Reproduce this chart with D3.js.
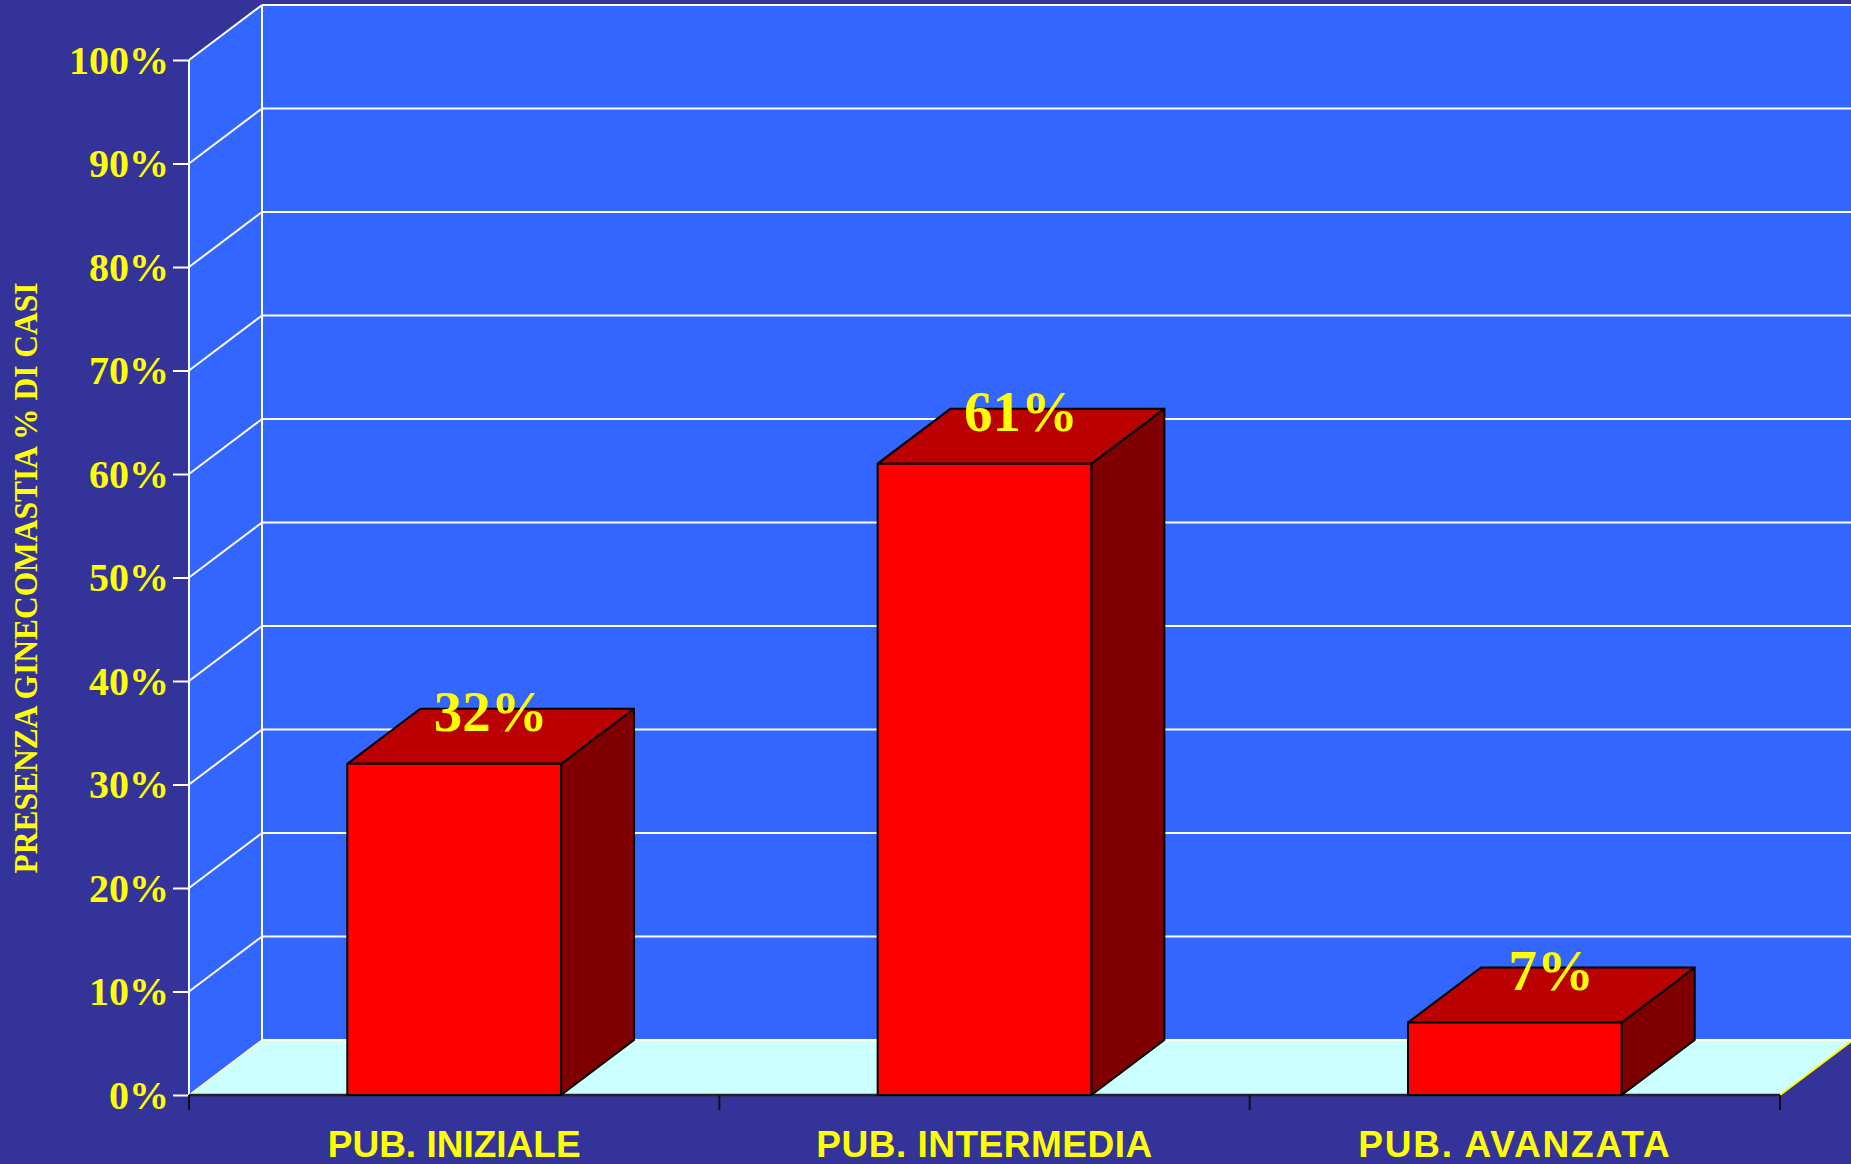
<!DOCTYPE html>
<html>
<head>
<meta charset="utf-8">
<script src="https://d3js.org/d3.v7.min.js"></script>
<style>
  html, body { margin: 0; padding: 0; background: #333399; overflow: hidden; }
  svg { display: block; }
</style>
</head>
<body>
<svg id="chart" width="1851" height="1164"></svg>
<script>
// Data
const categories = ["PUB. INIZIALE", "PUB. INTERMEDIA", "PUB. AVANZATA"];
const values = [32, 61, 7];
const valueLabels = ["32%", "61%", "7%"];
const yTicks = [0, 10, 20, 30, 40, 50, 60, 70, 80, 90, 100];
const yTitle = "PRESENZA GINECOMASTIA % DI CASI";

// Layout
const W = 1851, H = 1164;
const plotLeft = 189, plotRight = 1780, plotTop = 60, plotBottom = 1095;
const depthX = 73, depthY = 55;           // oblique projection of the 3D depth
const barRatio = 0.403;                   // bar width as a share of each category slot
const categoryLetterSpacing = { "PUB. INIZIALE": 0, "PUB. INTERMEDIA": 0.5, "PUB. AVANZATA": 1.8 };

const colors = {
  bg: "#333399", wall: "#3366FF", floor: "#CCFFFF",
  front: "#FF0000", top: "#BB0000", side: "#800000",
  text: "#FFFF00", grid: "#FFFFFF"
};

const svg = d3.select("#chart");

const x = d3.scaleBand().domain(categories).range([plotLeft, plotRight]).padding(0);
const y = d3.scaleLinear().domain([0, 100]).range([plotBottom, plotTop]);

// Background
svg.append("rect").attr("width", W).attr("height", H).attr("fill", colors.bg);

const line = d3.line();

// Back wall
svg.append("path")
  .attr("d", line([[plotLeft + depthX, y(100) - depthY], [plotRight + depthX + 10, y(100) - depthY],
                   [plotRight + depthX + 10, y(0) - depthY], [plotLeft + depthX, y(0) - depthY]]) + "Z")
  .attr("fill", colors.wall);

// Side wall
svg.append("path")
  .attr("d", line([[plotLeft, y(100)], [plotLeft + depthX, y(100) - depthY],
                   [plotLeft + depthX, y(0) - depthY], [plotLeft, y(0)]]) + "Z")
  .attr("fill", colors.wall);

// Floor
svg.append("path")
  .attr("d", line([[plotLeft, y(0)], [plotRight, y(0)], [plotRight + depthX, y(0) - depthY], [plotLeft + depthX, y(0) - depthY]]) + "Z")
  .attr("fill", colors.floor);

// Gridlines: diagonal on the side wall, horizontal on the back wall
const grid = svg.append("g").attr("stroke", colors.grid).attr("stroke-width", 2).attr("fill", "none");
yTicks.forEach(t => {
  if (t > 0) {
    grid.append("line")
      .attr("x1", plotLeft).attr("y1", y(t))
      .attr("x2", plotLeft + depthX).attr("y2", y(t) - depthY);
  }
  grid.append("line")
    .attr("x1", plotLeft + depthX).attr("y1", y(t) - depthY)
    .attr("x2", W).attr("y2", y(t) - depthY);
});
// Wall edges
grid.append("line").attr("x1", plotLeft).attr("y1", y(0)).attr("x2", plotLeft).attr("y2", y(100));
grid.append("line").attr("x1", plotLeft + depthX).attr("y1", y(0) - depthY).attr("x2", plotLeft + depthX).attr("y2", y(100) - depthY);
// Floor back edge, slightly yellowish
grid.append("line")
  .attr("x1", plotLeft + depthX).attr("y1", y(0) - depthY)
  .attr("x2", W).attr("y2", y(0) - depthY).attr("stroke", "#FFFFE0");
// Floor diagonal edges
svg.append("line")
  .attr("x1", plotLeft).attr("y1", y(0)).attr("x2", plotLeft + depthX).attr("y2", y(0) - depthY)
  .attr("stroke", "#FFFFCC").attr("stroke-width", 1.5);
svg.append("line")
  .attr("x1", plotRight).attr("y1", y(0)).attr("x2", plotRight + depthX).attr("y2", y(0) - depthY)
  .attr("stroke", "#FFFF00").attr("stroke-width", 2);

// Y axis ticks and labels
const yAxis = d3.axisLeft(y).tickValues(yTicks).tickSize(16).tickFormat(d => d + "%");
const gy = svg.append("g").attr("transform", `translate(${plotLeft},0)`).call(yAxis);
gy.select(".domain").remove();
gy.selectAll(".tick line").attr("stroke", colors.grid).attr("stroke-width", 2);
gy.selectAll(".tick text")
  .attr("fill", colors.text)
  .attr("font-family", "'Liberation Serif', 'Times New Roman', serif")
  .attr("font-weight", "bold")
  .attr("font-size", 40)
  .attr("x", -20)
  .attr("dy", "0.33em");

// X axis (front floor edge) with category boundary ticks
svg.append("line")
  .attr("x1", plotLeft).attr("y1", y(0)).attr("x2", plotRight).attr("y2", y(0))
  .attr("stroke", "#222222").attr("stroke-width", 2.5);
const boundaries = categories.map(c => x(c)).concat([x(categories[categories.length - 1]) + x.bandwidth()]);
svg.append("g").selectAll("line").data(boundaries).join("line")
  .attr("x1", d => d).attr("x2", d => d)
  .attr("y1", y(0)).attr("y2", y(0) + 15)
  .attr("stroke", "#111111").attr("stroke-width", 2);

// Category labels
svg.append("g").selectAll("text").data(categories).join("text")
  .attr("x", d => x(d) + x.bandwidth() / 2)
  .attr("y", 1157)
  .attr("text-anchor", "middle")
  .attr("fill", colors.text)
  .attr("font-family", "'Liberation Sans', Arial, sans-serif")
  .attr("font-weight", "bold")
  .attr("font-size", 37)
  .attr("letter-spacing", d => categoryLetterSpacing[d])
  .text(d => d);

// 3D bars
const bw = x.bandwidth() * barRatio;
const bars = svg.append("g").selectAll("g")
  .data(categories.map((c, i) => ({ c, v: values[i], label: valueLabels[i] })))
  .join("g");

bars.each(function (d) {
  const g = d3.select(this);
  const x0 = x(d.c) + (x.bandwidth() - bw) / 2, x1 = x0 + bw;
  const yt = y(d.v), yb = y(0);
  const faces = [
    g.append("path")
      .attr("d", line([[x1, yb], [x1 + depthX, yb - depthY], [x1 + depthX, yt - depthY], [x1, yt]]) + "Z")
      .attr("fill", colors.side),
    g.append("path")
      .attr("d", line([[x0, yt], [x0 + depthX, yt - depthY], [x1 + depthX, yt - depthY], [x1, yt]]) + "Z")
      .attr("fill", colors.top),
    g.append("rect")
      .attr("x", x0).attr("y", yt).attr("width", bw).attr("height", yb - yt)
      .attr("fill", colors.front)
  ];
  faces.forEach(s => s.attr("stroke", "#000").attr("stroke-width", 2).attr("stroke-linejoin", "round"));
});

// Value labels above each bar top
bars.append("text")
  .attr("x", d => x(d.c) + x.bandwidth() / 2 + depthX / 2)
  .attr("y", d => y(d.v) - depthY / 2 - 5)
  .attr("text-anchor", "middle")
  .attr("fill", colors.text)
  .attr("font-family", "'Liberation Serif', 'Times New Roman', serif")
  .attr("font-weight", "bold")
  .attr("font-size", 57)
  .text(d => d.label);

// Y axis title
svg.append("text")
  .attr("transform", "translate(37, 578) rotate(-90)")
  .attr("text-anchor", "middle")
  .attr("fill", colors.text)
  .attr("font-family", "'Liberation Serif', 'Times New Roman', serif")
  .attr("font-weight", "bold")
  .attr("font-size", 33)
  .attr("textLength", 591)
  .attr("lengthAdjust", "spacingAndGlyphs")
  .text(yTitle);
</script>
</body>
</html>
